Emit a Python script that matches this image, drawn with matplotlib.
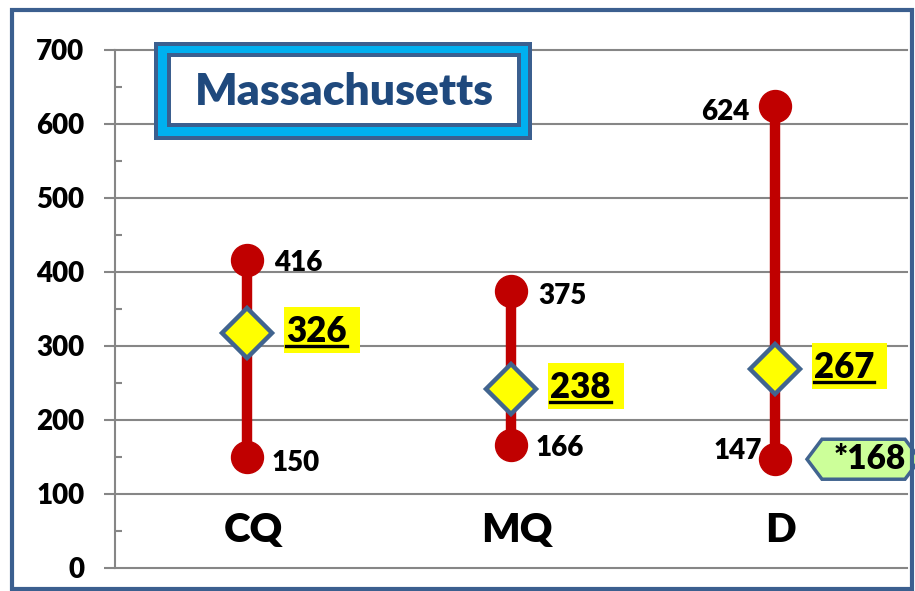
import numpy as np
import matplotlib
matplotlib.use('Agg')
import matplotlib.pyplot as plt
from matplotlib.patches import Rectangle, Polygon
from matplotlib.lines import Line2D
from matplotlib.transforms import IdentityTransform

plt.rcParams['font.family'] = ['Lato', 'DejaVu Sans']
plt.rcParams['font.weight'] = 'heavy'
WT = 'heavy'

# data
categories = ['CQ', 'MQ', 'D']
high_vals = [416, 375, 624]
low_vals = [150, 166, 147]
mid_vals = [318, 242, 269]          # where the diamonds sit
mid_labels = ['326', '238', '267']  # what the diamond labels say
note_label = '*168'

W, H = 915, 591
RED = '#C00000'
DARK = '#3B5F8F'
GRID = '#868686'

fig = plt.figure(figsize=(W / 100, H / 100), dpi=100)
disp = IdentityTransform()


def img_rect(x0, y0, x1, y1, **kw):
    # rectangle given in image pixel coords (origin top-left)
    r = Rectangle((x0, H - y1), x1 - x0, y1 - y0, transform=disp, **kw)
    fig.patches.append(r)
    return r


ax = fig.add_axes([115 / W, 1 - 568 / H, (907 - 115) / W, (568 - 50) / H])
xpos = np.arange(len(categories)) + 0.5
ax.set_xlim(0, 3)
ax.set_ylim(0, 700)

for s in ['top', 'right', 'bottom']:
    ax.spines[s].set_visible(False)
ax.spines['left'].set_color(GRID)
ax.spines['left'].set_linewidth(1.5)

ax.set_yticks(range(0, 701, 100))
ax.set_yticks(range(50, 700, 100), minor=True)
ax.set_xticks([])
ax.tick_params(axis='y', which='major', direction='out', length=8, width=1.5,
               color=GRID, pad=14, labelsize=20)
ax.tick_params(axis='y', which='minor', direction='in', length=5, width=1.5,
               color=GRID)
for lab in ax.get_yticklabels():
    lab.set_fontweight(WT)
ax.yaxis.grid(True, color=GRID, lw=1.5)
for gl in ax.get_ygridlines():
    gl.set_clip_on(False)
ax.set_axisbelow(True)

# range lines and end points
ax.vlines(xpos, low_vals, high_vals, color=RED, lw=7.5, zorder=3)
ax.plot(xpos, high_vals, 'o', color=RED, ms=23, zorder=4)
ax.plot(xpos, low_vals, 'o', color=RED, ms=23, zorder=4)
ax.plot(xpos, mid_vals, 'D', mfc='#FFFF00', mec='#41648F', mew=3.2, ms=25,
        zorder=5)

# category names inside the plot
for x, c in zip(xpos, categories):
    ax.annotate(c, (x, 0), xytext=(6, 26), textcoords='offset pixels',
                ha='center', va='baseline', fontsize=29, fontweight=WT)

# end point labels
high_off = [(27, -11, 'left'), (27, -13, 'left'), (-26, -14, 'right')]
low_off = [(25, -14, 'left'), (25, -11, 'left'), (-13, 0, 'right')]
for x, v, (dx, dy, ha) in zip(xpos, high_vals, high_off):
    ax.annotate(str(v), (x, v), xytext=(dx, dy), textcoords='offset pixels',
                ha=ha, va='baseline', fontsize=20, fontweight=WT, zorder=6)
for x, v, (dx, dy, ha) in zip(xpos, low_vals, low_off):
    ax.annotate(str(v), (x, v), xytext=(dx, dy), textcoords='offset pixels',
                ha=ha, va='baseline', fontsize=20, fontweight=WT, zorder=6)

# mid labels (yellow, underlined)
mid_texts = []
for x, v, lab in zip(xpos, mid_vals, mid_labels):
    t = ax.annotate(lab, (x, v), xytext=(39, -9), textcoords='offset pixels',
                    ha='left', va='baseline', fontsize=25, fontweight=WT,
                    zorder=8)
    mid_texts.append((t, x, v))

fig.canvas.draw()
renderer = fig.canvas.get_renderer()
for t, x, v in mid_texts:
    ext = t.get_window_extent(renderer)
    bx, by = ax.transData.transform((x, v))
    base = by - 9
    box = Rectangle((ext.x0 - 2, base - 11), ext.width + 15, 46,
                    transform=disp, fc='#FFFF00', ec='none', zorder=7,
                    clip_on=False)
    ax.add_artist(box)
    ul = Line2D([ext.x0, ext.x1], [base - 4, base - 4], transform=disp,
                color='black', lw=2.4, zorder=9, clip_on=False)
    ax.add_artist(ul)

# green note next to the D low point
bx, by = ax.transData.transform((xpos[2], low_vals[2]))
hexagon = [(32, 0), (47, 20), (130, 20), (145, 0), (130, -20), (47, -20)]
fig.patches.append(Polygon([(bx + a, by + b) for a, b in hexagon],
                           closed=True, transform=disp, fc='#CCFF99',
                           ec='#41648F', lw=2.5, zorder=2))
fig.text(bx + 59, by - 10, note_label, transform=disp, ha='left',
         va='baseline', fontsize=24, fontweight=WT, zorder=9)

# title box
img_rect(154, 42, 532, 140, fc=DARK, ec='none', zorder=1)
img_rect(158, 46, 528, 136, fc='#00B0F0', ec='none', zorder=1.1)
img_rect(167, 53, 521, 127, fc=DARK, ec='none', zorder=1.2)
img_rect(171, 57, 517, 123, fc='white', ec='none', zorder=1.3)
fig.text(344 / W, 1 - 105 / H, 'Massachusetts', ha='center', va='baseline',
         fontsize=32, fontweight=WT, color='#1F497D', zorder=2)

# outer frame
img_rect(11.5, 9.5, 912, 589, fc='none', ec=DARK, lw=3, zorder=10)

fig.savefig('out.png', dpi=100)
